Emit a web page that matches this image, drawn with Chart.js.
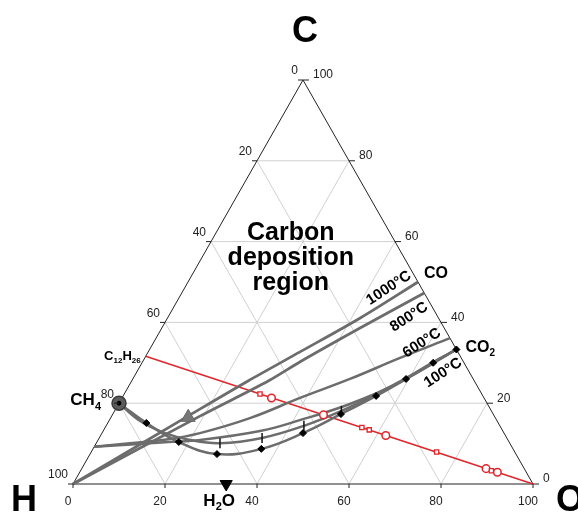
<!DOCTYPE html>
<html>
<head>
<meta charset="utf-8">
<script src="https://cdn.jsdelivr.net/npm/chart.js@4"></script>
<style>
  body { margin: 0; background: #fff; }
  #wrap { position: relative; width: 578px; height: 516px; }
</style>
</head>
<body>
<div id="wrap"><canvas id="ternaryChart"></canvas></div>
<script>
// compositions in atom % (C and O, H = 100 - C - O)
var gridSteps = [20, 40, 60, 80];
var axisTicks = [0, 20, 40, 60, 80, 100];

// carbon deposition boundaries
var c1000 = [0, 17.1, 25.5, 32.7, 41.1, 50];
var o1000 = [0, 16.9, 25.3, 33.0, 41.9, 50];
var c800 = [0, 16.8, 25.5, 30.2, 38.6, 47.3];
var o800 = [0, 19.2, 29.7, 34.2, 43.1, 52.7];
var c600 = [9.2, 10.1, 11.1, 12.6, 16.3, 21.3, 26.0, 31.2, 36.1];
var o600 = [0, 7.3, 15.1, 21.3, 30.3, 38.7, 47.2, 55.5, 63.9];
var cMid = [9.2, 10.4, 10.9, 13.1, 15.8, 19.8, 25.2, 33.3];
var oMid = [0, 15.5, 22.2, 34.1, 41.4, 50.3, 58.5, 66.7];
var cTickLine = [20, 15.6, 12.6, 10.9, 10.1, 11.4, 14.4, 18.1, 22.3, 26.2, 30.2, 33.3];
var oTickLine = [0, 6.8, 13.7, 20.0, 26.9, 35.4, 43.0, 49.3, 54.8, 59.3, 63.2, 66.7];
var c100 = [20, 15.1, 10.4, 7.4, 8.7, 12.6, 17.3, 21.8, 26.0, 30.0, 33.3];
var o100 = [0, 8.4, 17.8, 27.6, 36.6, 43.7, 49.6, 55.0, 59.4, 63.3, 66.7];

// markers
var cDiamonds = [15.1, 10.4, 7.4, 8.7, 12.6, 17.3, 21.8, 26.0, 30.0, 33.3];
var oDiamonds = [8.4, 17.8, 27.6, 36.6, 43.7, 49.6, 55.0, 59.4, 63.3, 66.7];
var cTicks = [10.1, 11.4, 14.4, 18.1];
var oTicks = [26.9, 35.4, 43.0, 49.3];
var cArrow = [16.5];
var oArrow = [16.8];

// C12H26 -> O line with its points
var cRedLine = [31.6, 0];
var oRedLine = [0, 100];
var cRedSquares = [22.3, 14.0, 13.4, 7.9, 3.3];
var oRedSquares = [29.5, 55.8, 57.7, 75.1, 89.3];
var cRedCircles = [21.3, 17.1, 12.0, 3.8, 2.9];
var oRedCircles = [32.5, 45.9, 62.0, 87.9, 90.8];

// species
var cCH4 = [20], oCH4 = [0];
var cH2O = [0], oH2O = [33.3];

function toXY(c, o) {
    return { x: o / 100 + c / 200, y: c / 100 };
}
function pts(cs, os) {
    return cs.map(function (c, i) { return toXY(c, os[i]); });
}

var gray = '#6c6c6c';
var red = '#e0252b';

function lineSet(cs, os, color, width, tension, order) {
    return {
        data: pts(cs, os), showLine: true, borderColor: color, borderWidth: width,
        pointRadius: 0, tension: tension, fill: false, clip: false, order: order
    };
}
function markSet(cs, os, style, radius, fillColor, strokeColor, strokeWidth, rotation, order) {
    return {
        data: pts(cs, os), showLine: false, pointStyle: style, pointRadius: radius,
        pointBackgroundColor: fillColor, pointBorderColor: strokeColor,
        pointBorderWidth: strokeWidth, pointRotation: rotation || 0, clip: false, order: order
    };
}

var datasets = [];

// grid lines
gridSteps.forEach(function (g) {
    datasets.push(lineSet([g, g], [0, 100 - g], '#d0d0d0', 1, 0, 20));
    datasets.push(lineSet([0, 100 - g], [g, g], '#d0d0d0', 1, 0, 20));
    datasets.push(lineSet([100 - g, 0], [0, 100 - g], '#d0d0d0', 1, 0, 20));
});
// triangle frame
datasets.push(lineSet([0, 0, 100, 0], [0, 100, 0, 0], '#222', 1, 0, 15));

datasets.push(lineSet(cRedLine, oRedLine, red, 1.5, 0, 12));
datasets.push(lineSet(c1000, o1000, gray, 2.8, 0.3, 10));
datasets.push(lineSet(c800, o800, gray, 2.8, 0.3, 10));
datasets.push(lineSet(c600, o600, gray, 2.5, 0.4, 10));
datasets.push(lineSet(cMid, oMid, gray, 2.5, 0.4, 10));
datasets.push(lineSet(cTickLine, oTickLine, gray, 2.5, 0.4, 10));
datasets.push(lineSet(c100, o100, gray, 2.5, 0.4, 10));

datasets.push(markSet(cRedSquares, oRedSquares, 'rect', 3, '#fff', red, 1.3, 0, 5));
datasets.push(markSet(cRedCircles, oRedCircles, 'circle', 3.8, '#fff', red, 1.5, 0, 5));
datasets.push(markSet(cDiamonds, oDiamonds, 'rectRot', 3.5, '#000', '#000', 1, 0, 4));
datasets.push(markSet(cTicks, oTicks, 'line', 5, '#000', '#111', 1.5, 90, 4));
datasets.push(markSet(cArrow, oArrow, 'triangle', 8, '#777', '#666', 1, 240, 4));
datasets.push(markSet(cH2O, oH2O, 'triangle', 7, '#000', '#000', 1, 180, 4));
datasets.push(markSet(cCH4, oCH4, 'circle', 2, '#000', '#000', 1, 0, 1));
datasets.push(markSet(cCH4, oCH4, 'circle', 7, '#5c5c5c', '#3c3c3c', 1.5, 0, 2));

var fontFam = '"Liberation Sans", Arial, Helvetica, sans-serif';

function drawChem(ctx, parts, x, y, size, align) {
    var subSize = Math.round(size * 0.62);
    var total = 0;
    parts.forEach(function (p) {
        ctx.font = 'bold ' + (p[1] ? subSize : size) + 'px ' + fontFam;
        total += ctx.measureText(p[0]).width;
    });
    var cx = align === 'right' ? x - total : (align === 'center' ? x - total / 2 : x);
    ctx.textAlign = 'left';
    ctx.textBaseline = 'middle';
    parts.forEach(function (p) {
        ctx.font = 'bold ' + (p[1] ? subSize : size) + 'px ' + fontFam;
        ctx.fillText(p[0], cx, p[1] ? y + size * 0.38 : y);
        cx += ctx.measureText(p[0]).width;
    });
}

var labelPlugin = {
    id: 'ternaryLabels',
    afterDraw: function (chart) {
        var ctx = chart.ctx;
        var xs = chart.scales.x, ys = chart.scales.y;
        function px(c, o) {
            var p = toXY(c, o);
            return [xs.getPixelForValue(p.x), ys.getPixelForValue(p.y)];
        }
        ctx.save();
        ctx.fillStyle = '#222';
        ctx.strokeStyle = '#222';
        ctx.lineWidth = 1;
        ctx.font = '12px ' + fontFam;
        ctx.textBaseline = 'middle';

        axisTicks.forEach(function (v) {
            // left edge: H %
            var l = px(100 - v, 0);
            ctx.beginPath(); ctx.moveTo(l[0], l[1]); ctx.lineTo(l[0] - 5, l[1]); ctx.stroke();
            ctx.textAlign = 'right';
            ctx.fillText(String(v), l[0] - 5, l[1] - 9);
            // right edge: C %
            var r = px(v, 100 - v);
            ctx.beginPath(); ctx.moveTo(r[0], r[1]); ctx.lineTo(r[0] + 6, r[1]); ctx.stroke();
            ctx.textAlign = 'left';
            ctx.fillText(String(v), r[0] + 10, r[1] - 5);
            // bottom edge: O %
            var b = px(0, v);
            ctx.beginPath(); ctx.moveTo(b[0], b[1]); ctx.lineTo(b[0], b[1] + 4); ctx.stroke();
            ctx.textAlign = 'center';
            ctx.fillText(String(v), b[0] - 5, b[1] + 18);
        });

        // corner letters
        ctx.fillStyle = '#000';
        ctx.font = 'bold 36px ' + fontFam;
        ctx.textAlign = 'center';
        var top = px(100, 0), hc = px(0, 0), oc = px(0, 100);
        ctx.fillText('C', top[0] + 2, top[1] - 48);
        ctx.fillText('H', hc[0] - 49, hc[1] + 17);
        ctx.fillText('O', oc[0] + 37, oc[1] + 17);

        // region text
        ctx.font = 'bold 25px ' + fontFam;
        var reg = px(55.9, 19.4);
        ctx.fillText('Carbon', reg[0], reg[1] - 25);
        ctx.fillText('deposition', reg[0], reg[1]);
        ctx.fillText('region', reg[0], reg[1] + 25);

        // species labels
        var ch4 = px(cCH4[0], oCH4[0]);
        drawChem(ctx, [['CH', 0], ['4', 1]], ch4[0] - 18, ch4[1] - 3, 17, 'right');
        var dod = px(cRedLine[0], oRedLine[0]);
        drawChem(ctx, [['C', 0], ['12', 1], ['H', 0], ['26', 1]], dod[0] - 5, dod[1], 13, 'right');
        var co = px(50, 50);
        drawChem(ctx, [['CO', 0]], co[0] + 6, co[1] - 8, 16, 'left');
        var co2 = px(33.3, 66.7);
        drawChem(ctx, [['CO', 0], ['2', 1]], co2[0] + 9, co2[1] - 2, 16, 'left');
        var h2o = px(cH2O[0], oH2O[0]);
        drawChem(ctx, [['H', 0], ['2', 1], ['O', 0]], h2o[0] - 7, h2o[1] + 17, 17, 'center');

        // temperature labels along the boundaries
        var temps = [['1000°C', 48.5, 44.4], ['800°C', 41.3, 52.4], ['600°C', 34.9, 58.4], ['100°C', 27.5, 66.7]];
        ctx.font = 'bold 15px ' + fontFam;
        ctx.textAlign = 'center';
        ctx.textBaseline = 'middle';
        temps.forEach(function (t) {
            var p = px(t[1], t[2]);
            ctx.save();
            ctx.translate(p[0], p[1]);
            ctx.rotate(-33 * Math.PI / 180);
            ctx.fillText(t[0], 0, 0);
            ctx.restore();
        });
        ctx.restore();
    }
};

var ctx = document.getElementById('ternaryChart').getContext('2d');
var chart = new Chart(ctx, {
    type: 'scatter',
    data: { datasets: datasets },
    options: {
        responsive: true,
        maintainAspectRatio: false,
        animation: false,
        layout: { padding: { left: 73, right: 45, top: 80, bottom: 32 } },
        scales: {
            x: { type: 'linear', min: 0, max: 1, display: false },
            y: { type: 'linear', min: 0, max: 1, display: false }
        },
        plugins: { legend: { display: false }, tooltip: { enabled: false } }
    },
    plugins: [labelPlugin]
});
</script>
</body>
</html>
